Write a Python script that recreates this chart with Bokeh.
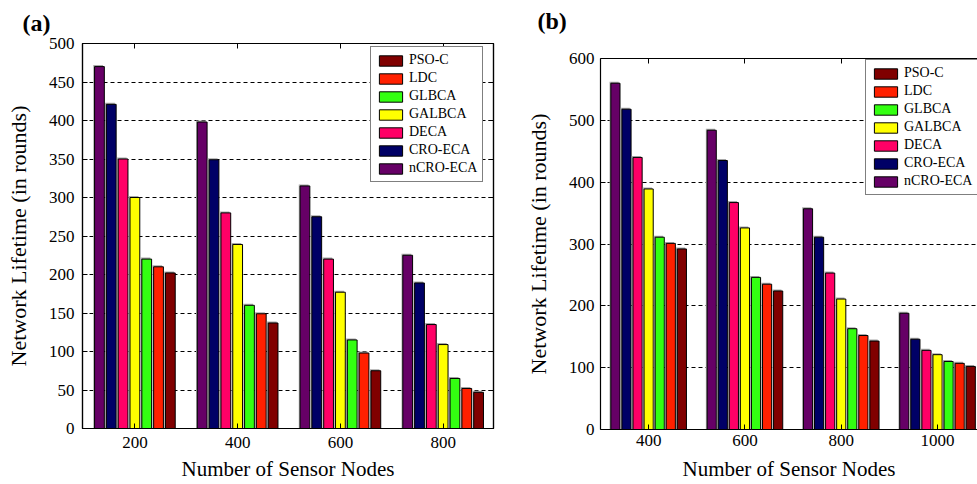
from bokeh.plotting import figure
from bokeh.models import (Range1d, FixedTicker, LinearAxis, Legend, LegendItem,
                          ColumnDataSource)
from bokeh.transform import dodge
from bokeh.layouts import row
from bokeh.embed import file_html
from bokeh.resources import INLINE

# ---------------- data ----------------
series = ["nCRO-ECA", "CRO-ECA", "DECA", "GALBCA", "GLBCA", "LDC", "PSO-C"]
legend_order = ["PSO-C", "LDC", "GLBCA", "GALBCA", "DECA", "CRO-ECA", "nCRO-ECA"]
colors = {"PSO-C": "#800000", "LDC": "#FF2000", "GLBCA": "#33FF11",
          "GALBCA": "#FFFF00", "DECA": "#FF0066", "CRO-ECA": "#000066",
          "nCRO-ECA": "#660066"}

nodes_a = [200, 400, 600, 800]
PSO_C_a = [202, 137, 75, 47]
LDC_a = [210, 149, 98, 52]
GLBCA_a = [220, 160, 115, 65]
GALBCA_a = [300, 239, 177, 109]
DECA_a = [350, 280, 220, 135]
CRO_ECA_a = [421, 349, 275, 189]
nCRO_ECA_a = [470, 398, 315, 225]

nodes_b = [400, 600, 800, 1000]
PSO_C_b = [292, 224, 143, 102]
LDC_b = [301, 235, 152, 107]
GLBCA_b = [311, 246, 163, 110]
GALBCA_b = [389, 326, 211, 121]
DECA_b = [440, 367, 253, 128]
CRO_ECA_b = [518, 435, 311, 146]
nCRO_ECA_b = [560, 484, 357, 188]

yticks_a = [0, 50, 100, 150, 200, 250, 300, 350, 400, 450, 500]
yticks_b = [0, 100, 200, 300, 400, 500, 600]

data_a = {"x": nodes_a, "PSO-C": PSO_C_a, "LDC": LDC_a, "GLBCA": GLBCA_a,
          "GALBCA": GALBCA_a, "DECA": DECA_a, "CRO-ECA": CRO_ECA_a,
          "nCRO-ECA": nCRO_ECA_a}
data_b = {"x": nodes_b, "PSO-C": PSO_C_b, "LDC": LDC_b, "GLBCA": GLBCA_b,
          "GALBCA": GALBCA_b, "DECA": DECA_b, "CRO-ECA": CRO_ECA_b,
          "nCRO-ECA": nCRO_ECA_b}

FONT = "Liberation Serif"
PITCH = 23
BAR_W = 19


def make_panel(data, xr, yr, xticks, yticks, width, height, borders, frame_px,
               tag, tag_offset, tag_standoff, top_pad, legend_xy, right_side,
               tick_standoff_x, lab_standoff_x, tick_standoff_y, margin):
    bl, br, bt, bb = borders
    p = figure(width=width, height=height, x_range=Range1d(*xr), y_range=Range1d(*yr),
               output_backend="svg", toolbar_location=None,
               min_border_left=bl, min_border_right=br, min_border_top=bt,
               min_border_bottom=bb, x_axis_location=None, y_axis_location=None,
               margin=margin)
    p.background_fill_color = "white"
    p.border_fill_color = "white"
    if right_side:
        p.outline_line_color = "black"
        p.outline_line_width = 1.2
    else:
        p.outline_line_color = None

    p.title.text = tag
    p.title.align = "left"
    p.title.offset = tag_offset
    p.title.standoff = tag_standoff
    p.title.text_font = FONT
    p.title.text_font_size = "24px"
    p.title.text_font_style = "bold"
    p.title.text_color = "black"

    # size of one screen pixel in data units (for the light bar shadow)
    px_x = (xr[1] - xr[0]) / frame_px[0]
    px_y = (yr[1] - yr[0]) / frame_px[1]

    src = ColumnDataSource(data)
    shadow = ColumnDataSource({k: (v if k == "x" else [t + 1.5 * px_y for t in v])
                               for k, v in data.items()})
    renderers = {}
    for i, name in enumerate(series):
        off = (i - 3) * PITCH
        p.vbar(x=dodge("x", off - 1.3 * px_x, range=p.x_range), top=name, width=BAR_W,
               source=shadow, fill_color="#A8A8A8", line_color=None)
        r = p.vbar(x=dodge("x", off, range=p.x_range), top=name, width=BAR_W,
                   source=src, fill_color=colors[name], line_color="black",
                   line_width=1)
        renderers[name] = r

    def add_axis(loc, ticks, labels, label_text=None, standoff=6, lab_size="21px",
                 lab_standoff=10, tick_in=5, tick_out=0, tick_color="black",
                 axis_color="black"):
        ax = LinearAxis(ticker=FixedTicker(ticks=ticks))
        ax.major_tick_in = tick_in
        ax.major_tick_out = tick_out
        ax.minor_tick_in = 0
        ax.minor_tick_out = 0
        ax.axis_line_color = axis_color
        ax.axis_line_width = 1.2
        ax.major_tick_line_color = tick_color
        if labels:
            ax.major_label_text_font = FONT
            ax.major_label_text_font_size = "17px"
            ax.major_label_text_color = "black"
            ax.major_label_standoff = standoff
        else:
            ax.major_label_text_font_size = "0px"
            ax.major_label_text_color = None
            ax.major_label_standoff = 0
        if label_text:
            ax.axis_label = label_text
            ax.axis_label_text_font = FONT
            ax.axis_label_text_font_size = lab_size
            ax.axis_label_text_font_style = "normal"
            ax.axis_label_text_color = "black"
            ax.axis_label_standoff = lab_standoff
        p.add_layout(ax, loc)
        return ax

    add_axis("left", yticks, True, "Network Lifetime (in rounds)",
             standoff=tick_standoff_y, lab_size="22px", lab_standoff=15)
    add_axis("below", xticks, True, "Number of Sensor Nodes",
             standoff=tick_standoff_x, lab_size="21px", lab_standoff=lab_standoff_x)
    add_axis("above", xticks, False)
    if top_pad > 0:
        # invisible axis used only as vertical room between frame and panel tag
        add_axis("above", xticks, False, tick_in=0, tick_out=top_pad,
                 tick_color=None, axis_color=None)
    if right_side:
        add_axis("right", yticks, False)

    p.xgrid.visible = False
    p.ygrid.ticker = FixedTicker(ticks=yticks)
    p.ygrid.grid_line_color = "black"
    p.ygrid.grid_line_dash = "4 3"
    p.ygrid.grid_line_width = 1

    items = [LegendItem(label=n, renderers=[renderers[n]]) for n in legend_order]
    leg = Legend(items=items, location=legend_xy)
    leg.label_text_font = FONT
    leg.label_text_font_size = "14px"
    leg.label_text_color = "black"
    leg.glyph_width = 29
    leg.glyph_height = 13
    leg.label_standoff = 4
    leg.label_height = 15
    leg.spacing = 2
    leg.padding = 5
    leg.margin = 0
    leg.border_line_color = "black"
    leg.border_line_width = 1.5
    leg.background_fill_color = "white"
    leg.background_fill_alpha = 1
    p.add_layout(leg, "center")
    return p


# panel (a) is lifted 15px so that its frame top can sit higher than panel (b)'s
pa = make_panel(data_a, (98, 898), (0, 500), nodes_a, yticks_a, 500, 498,
                (82, 7, 58, 55), (411, 385), "(a)", -60, 16, 0, (288, 246), True,
                8, 6, 8, (-15, 0, 0, 0))
pb = make_panel(data_b, (300, 1083), (0, 600), nodes_b, yticks_b, 477, 484,
                (100, 0, 58, 55), (377, 371), "(b)", -63, 4, 23, (265, 234), False,
                5, 8, 6, (0, 0, 0, 0))

layout = row(pa, pb)
open("out.html", "w").write(file_html(layout, INLINE))
